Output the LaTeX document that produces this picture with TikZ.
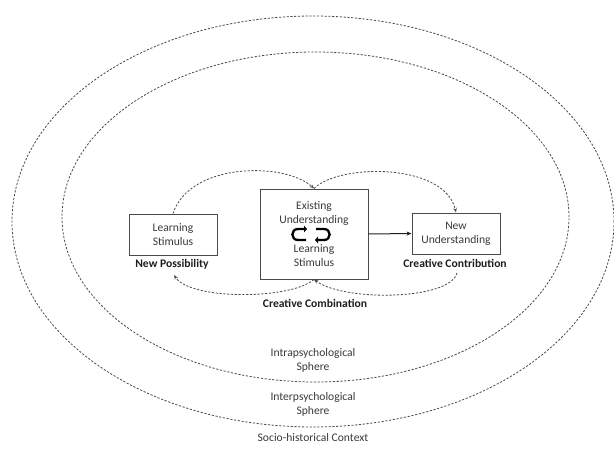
\documentclass[tikz,border=0pt]{standalone}
\usepackage{fontspec}
\setmainfont{Carlito}
\usetikzlibrary{arrows.meta}
\definecolor{txt}{HTML}{3A3A3A}
\definecolor{bld}{HTML}{1E1E1E}
\definecolor{ln}{HTML}{4A4A4A}
\tikzset{
  box/.style={draw=ln, line width=1pt, minimum width=88pt, minimum height=41pt, inner sep=0pt, text=txt, align=center, font=\fontsize{11.6}{14}\selectfont},
  bigbox/.style={box, minimum width=108pt, minimum height=90pt},
  plain/.style={text=txt, align=center, inner sep=0pt, font=\fontsize{11.6}{14}\selectfont},
  bold/.style={text=bld, align=center, inner sep=0pt, font=\fontsize{11.6}{14}\selectfont\bfseries},
  sphere/.style={draw=ln, line width=0.8pt, dash pattern=on 2.2pt off 1.6pt},
  dasharrow/.style={draw=ln, line width=0.8pt, dash pattern=on 2.2pt off 1.6pt, -{Stealth[length=4.5pt,width=3.5pt]}},
  icon/.style={line width=2.3pt, black, -{Triangle[length=3pt,width=6.5pt]}},
}
\begin{document}
\begin{tikzpicture}[x=1pt,y=-1pt]
\useasboundingbox (0,0) rectangle (614,452);
% spheres
\draw[sphere] (313,221.5) ellipse [x radius=301pt, y radius=205.5pt];
\draw[sphere] (315.5,217) ellipse [x radius=253.5pt, y radius=165pt];
% boxes
\node[box] (ls) at (173,234.5) {Learning\\Stimulus};
\node[bigbox] (mid) at (314,234) {};
\node[box] (nu) at (456,233.5) {New\\Understanding};
\node[plain] (midtop) at (314,213) {Existing\\Understanding};
\node[plain] (midbot) at (314,256) {Learning\\Stimulus};
% labels
\node[bold] (np) at (172,264) {New Possibility};
\node[bold] (cc) at (455,263) {Creative Contribution};
\node[bold] (ccomb) at (315,303) {Creative Combination};
\node[plain] (intra) at (313,360) {Intrapsychological\\Sphere};
\node[plain] (inter) at (313,404.5) {Interpsychological\\Sphere};
\node[plain] (socio) at (313,438) {Socio-historical Context};
% icon
\draw[icon] (306,240) -- (298,240) .. controls (290.5,240) and (290.5,229) .. (298,229) -- (307,229);
\draw[icon] (316,229) -- (324,229) .. controls (331.5,229) and (331.5,240) .. (324,240) -- (315,240);
% connectors
\coordinate (c3) at (457,273);
\coordinate (c4) at (174,275);
\draw[dasharrow] (ls.north) .. controls (190,162) and (285,162) .. (mid.north);
\draw[dasharrow] (mid.north) .. controls (340,163) and (445,163) .. (nu.north);
\draw[dasharrow] (c3) .. controls (450,300) and (345,302) .. (mid.south);
\draw[dasharrow] (mid.south) .. controls (290,300) and (190,300) .. (c4);
\draw[draw=bld, line width=1pt, -{Stealth[length=5pt,width=4pt]}] (mid.east) -- (nu.west);
\end{tikzpicture}
\end{document}
